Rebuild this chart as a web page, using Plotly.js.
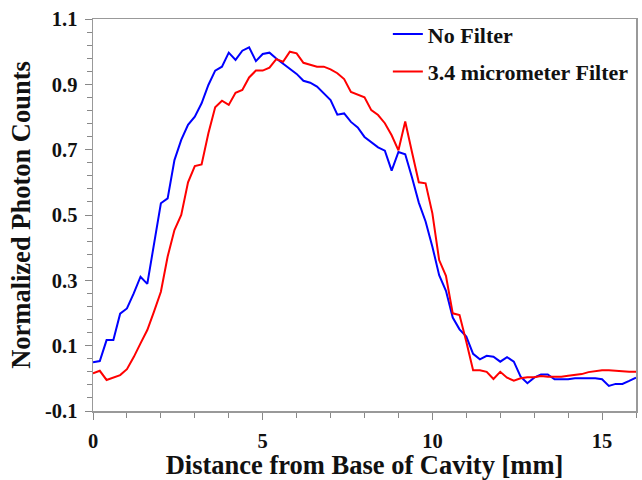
<!DOCTYPE html>
<html>
<head>
<meta charset="utf-8">
<script src="https://cdn.plot.ly/plotly-3.0.1.min.js"></script>
<style>
html,body{margin:0;padding:0;background:#fff;}
#chart{width:642px;height:480px;}
</style>
</head>
<body>
<div id="chart"></div>
<script>
// Distance from base of cavity (mm), sampled every 0.2 mm
const distance = [0,0.2,0.4,0.6,0.8,1,1.2,1.4,1.6,1.8,2,2.2,2.4,2.6,2.8,3,3.2,3.4,3.6,3.8,4,4.2,4.4,4.6,4.8,5,5.2,5.4,5.6,5.8,6,6.2,6.4,6.6,6.8,7,7.2,7.4,7.6,7.8,8,8.2,8.4,8.6,8.8,9,9.2,9.4,9.6,9.8,10,10.2,10.4,10.6,10.8,11,11.2,11.4,11.6,11.8,12,12.2,12.4,12.6,12.8,13,13.2,13.4,13.6,13.8,14,14.2,14.4,14.6,14.8,15,15.2,15.4,15.6,15.8,16];

const noFilter = [0.049,0.053,0.117,0.117,0.198,0.214,0.260,0.311,0.289,0.413,0.536,0.551,0.668,0.730,0.776,0.801,0.842,0.898,0.942,0.954,0.997,0.975,1.003,1.013,0.971,0.993,0.997,0.979,0.964,0.949,0.932,0.911,0.905,0.893,0.874,0.852,0.807,0.811,0.785,0.768,0.739,0.723,0.707,0.697,0.636,0.693,0.686,0.615,0.538,0.480,0.403,0.316,0.268,0.186,0.150,0.128,0.075,0.058,0.069,0.066,0.051,0.065,0.051,0.005,-0.015,0.002,0.012,0.012,-0.003,-0.003,-0.003,0.000,0.000,0.000,0.000,-0.003,-0.023,-0.017,-0.017,-0.008,0.002];

const filter34 = [0.015,0.023,-0.005,0.002,0.010,0.028,0.065,0.107,0.148,0.205,0.265,0.373,0.454,0.500,0.600,0.650,0.655,0.750,0.830,0.850,0.837,0.874,0.883,0.921,0.942,0.942,0.951,0.977,0.969,1.000,0.995,0.966,0.959,0.954,0.954,0.946,0.934,0.916,0.877,0.869,0.860,0.821,0.806,0.781,0.744,0.698,0.786,0.692,0.600,0.597,0.505,0.362,0.314,0.199,0.194,0.112,0.025,0.025,0.020,-0.002,0.020,0.002,-0.007,0.000,0.003,0.003,0.007,0.005,0.005,0.005,0.008,0.010,0.013,0.019,0.023,0.025,0.025,0.023,0.020,0.020,0.020];

const seriesNames = ["No Filter", "3.4 micrometer Filter"];
const xTickVals = [0,5,10,15];
const yTickVals = [-0.1,0.1,0.3,0.5,0.7,0.9,1.1];

const font = "Liberation Serif, Times New Roman, serif";

const traces = [
  {x: distance, y: noFilter, name: seriesNames[0], type: "scatter", mode: "lines",
   legendgroup: "a", line: {color: "#0000ff", width: 2}},
  {x: distance, y: filter34, name: seriesNames[1], type: "scatter", mode: "lines",
   legendgroup: "b", line: {color: "#ff0000", width: 2}}
];

const axisCommon = {
  showgrid: false, zeroline: false, showline: true, mirror: true,
  linecolor: "#999", linewidth: 1.5, ticks: "outside", tickcolor: "#888",
  ticklen: 7, tickwidth: 1, ticklabelstandoff: 3,
  tickfont: {family: font, size: 20.5, color: "#111", weight: "bold"}
};

const layout = {
  width: 642, height: 480,
  margin: {l: 93, r: 6, t: 19, b: 69, autoexpand: false},
  paper_bgcolor: "#fff", plot_bgcolor: "#fff",
  showlegend: true,
  legend: {x: 0.543, xanchor: "left", y: 1.015, yanchor: "top",
    traceorder: "grouped", tracegroupgap: 6,
    bgcolor: "rgba(0,0,0,0)", borderwidth: 0, itemwidth: 30,
    font: {family: font, size: 22, color: "#111", weight: "bold"}},
  xaxis: Object.assign({}, axisCommon, {
    range: [0, 16], tickmode: "array", tickvals: xTickVals,
    ticktext: xTickVals.map(String), ticklabelstandoff: 4,
    minor: {dtick: 1, tick0: 0, ticks: "outside", ticklen: 5, tickcolor: "#888"},
    title: {text: "Distance from Base of Cavity [mm]", standoff: 4,
      font: {family: font, size: 26.5, color: "#111", weight: "bold"}}
  }),
  yaxis: Object.assign({}, axisCommon, {
    range: [-0.1, 1.1], tickmode: "array", tickvals: yTickVals,
    ticktext: yTickVals.map(v => v.toFixed(1)),
    minor: {dtick: 0.04, tick0: -0.1, ticks: "outside", ticklen: 5, tickcolor: "#888"},
    title: {text: "Normalized Photon Counts", standoff: 6,
      font: {family: font, size: 26.5, color: "#111", weight: "bold"}}
  })
};

Plotly.newPlot("chart", traces, layout, {displayModeBar: false, staticPlot: true});
</script>
</body>
</html>
